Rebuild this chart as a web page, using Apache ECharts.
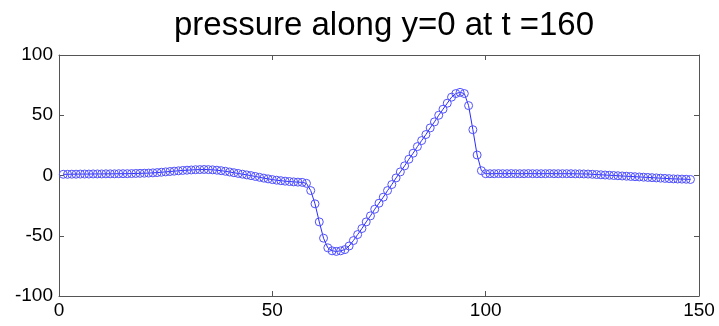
<!DOCTYPE html>
<html>
<head>
<meta charset="utf-8">
<script src="https://cdn.jsdelivr.net/npm/echarts@6/dist/echarts.min.js"></script>
<style>html,body{margin:0;padding:0;background:#fff}#c{width:719px;height:326px}</style>
</head>
<body>
<div id="c"></div>
<script>
const titleText = "pressure along y=0 at t =160";
const xTicks = [0, 50, 100, 150];
const yTicks = [-100, -50, 0, 50, 100];
// x positions 1..148
const xValues = [];
for (let i = 1; i <= 148; i++) xValues.push(i);
const pressure = [
  1.0,1.0,1.1,1.1,1.2,1.2,1.2,1.3,1.3,1.3,
  1.4,1.4,1.4,1.5,1.5,1.5,1.6,1.7,1.8,1.9,
  2.0,2.2,2.4,2.7,3.0,3.3,3.6,3.9,4.2,4.4,
  4.6,4.8,4.9,5.0,4.9,4.7,4.4,4.0,3.5,2.9,
  2.3,1.7,1.1,0.5,-0.1,-0.8,-1.5,-2.2,-2.8,-3.4,
  -3.9,-4.3,-4.7,-5.0,-5.3,-5.5,-5.7,-6.5,-12.5,-23.5,
  -38.5,-52,-60,-62.5,-63,-62.5,-61.5,-58.5,-54,-49,
  -44,-38.5,-33.5,-28,-23,-18,-12.5,-7.5,-2,3,
  8,13.5,18.5,24,29,34,39.5,44.5,50,55,
  60,65,68,69,68,58,38,17,4,1.5,
  1.5,1.5,1.6,1.5,1.5,1.6,1.5,1.5,1.5,1.6,
  1.5,1.5,1.5,1.5,1.6,1.5,1.5,1.5,1.5,1.5,
  1.4,1.4,1.3,1.2,1.0,0.8,0.6,0.4,0.2,0.0,
  -0.2,-0.4,-0.6,-0.8,-1.0,-1.2,-1.4,-1.6,-1.8,-2.0,
  -2.2,-2.4,-2.6,-2.8,-2.9,-3.0,-3.1,-3.3
];
const seriesData = xValues.map((x, i) => [x, pressure[i]]);

const axisColor = '#555';
const labelStyle = {color: '#000', fontSize: 19, fontFamily: 'Liberation Sans, Arial, sans-serif'};
const chart = echarts.init(document.getElementById('c'));
chart.setOption({
  animation: false,
  title: {
    text: titleText, left: 379, top: 4, textAlign: 'center',
    textStyle: {fontSize: 33, fontWeight: 'normal', color: '#000', fontFamily: 'Liberation Sans, Arial, sans-serif'}
  },
  grid: {left: 59, right: 20, top: 55, bottom: 30, containLabel: false},
  xAxis: [{
    type: 'value', min: xTicks[0], max: xTicks[xTicks.length-1], interval: 50, position: 'bottom',
    axisLine: {show: true, onZero: false, lineStyle: {color: axisColor, width: 1}},
    axisTick: {show: true, inside: true, length: 5, lineStyle: {color: axisColor}},
    axisLabel: Object.assign({margin: 5}, labelStyle),
    splitLine: {show: false}
  }, {
    type: 'value', min: xTicks[0], max: xTicks[xTicks.length-1], interval: 50, position: 'top',
    axisLine: {show: true, onZero: false, lineStyle: {color: axisColor, width: 1}},
    axisTick: {show: true, inside: true, length: 5, lineStyle: {color: axisColor}},
    axisLabel: {show: false}, splitLine: {show: false}
  }],
  yAxis: [{
    type: 'value', min: yTicks[0], max: yTicks[yTicks.length-1], interval: 50, position: 'left',
    axisLine: {show: true, onZero: false, lineStyle: {color: axisColor, width: 1}},
    axisTick: {show: true, inside: true, length: 5, lineStyle: {color: axisColor}},
    axisLabel: Object.assign({margin: 6}, labelStyle),
    splitLine: {show: false}
  }, {
    type: 'value', min: yTicks[0], max: yTicks[yTicks.length-1], interval: 50, position: 'right',
    axisLine: {show: true, onZero: false, lineStyle: {color: axisColor, width: 1}},
    axisTick: {show: true, inside: true, length: 5, lineStyle: {color: axisColor}},
    axisLabel: {show: false}, splitLine: {show: false}
  }],
  series: [{
    type: 'line', data: seriesData, xAxisIndex: 0, yAxisIndex: 0,
    symbol: 'circle', symbolSize: 8, showAllSymbol: true,
    lineStyle: {color: '#2a2aff', width: 1},
    itemStyle: {color: 'rgba(0,0,0,0)', borderColor: '#5050ff', borderWidth: 1},
    emphasis: {disabled: true}
  }]
});
</script>
</body>
</html>
